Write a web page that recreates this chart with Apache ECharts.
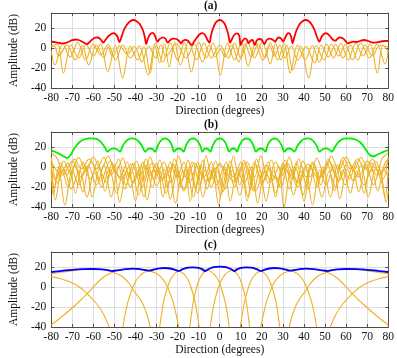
<!DOCTYPE html>
<html>
<head>
<meta charset="utf-8">
<script src="https://cdn.jsdelivr.net/npm/echarts@6/dist/echarts.min.js"></script>
<style>
  html, body {margin: 0; padding: 0; background: #fff;}
  #chart {width: 397px; height: 358px;}
</style>
</head>
<body>
<div id="chart"></div>
<script>
// tick labels
const xTicks = [-80, 80, 10]
const yTicks = [-40, 35, 20]
const panelTitles = ['(a)', '(b)', '(c)']

// (a) combined pattern and the three component patterns, [deg, dB]
const aRed = [[-80,6.5],[-78,5.8],[-76,5],[-74.5,4.6],[-73,5.2],[-71.5,6.5],[-70,7.8],[-68.5,8.5],[-67,8],[-65.5,6.5],[-64,4.8],[-63,4],[-62,5.5],[-60.5,8.5],[-59,10.3],[-58,10.5],[-57,9.5],[-56,7],[-55.3,5.3],[-54.5,7.5],[-53,11.5],[-51.5,14],[-50.5,14.8],[-49.5,14],[-48.5,11],[-47.6,5.8],[-46.8,10],[-45.5,18],[-44,23.5],[-42.5,26.8],[-41,28],[-39.5,26.8],[-38,24],[-36.5,18],[-35.5,10],[-34.9,4],[-34,10],[-33,13.8],[-32,15.2],[-31,13.5],[-30.2,9],[-29.6,6.3],[-28.5,9],[-27,10.7],[-25.8,9.5],[-24.7,5.3],[-23.5,8],[-22,9.3],[-20.5,9],[-19.3,7],[-18.4,4.7],[-17.5,7],[-16.3,8.2],[-15,7],[-13.3,3],[-12.3,6],[-11,10],[-9.5,13.8],[-8.3,14.8],[-7,13],[-5.8,8],[-4.9,5.3],[-4.2,12],[-3.3,19],[-2.1,24.7],[-1,27.3],[0,28],[1,27.3],[2.2,24.7],[3.3,19],[4.2,12],[4.9,5.3],[5.8,9],[7,13.5],[8.2,14.7],[9.3,12],[9.9,3],[10.8,7],[12,9.7],[13,8],[13.6,4.7],[14.5,7],[15.5,8],[16.6,3],[17.6,7.5],[18.7,9],[20,8],[21.2,4],[22.3,8],[23.5,9.3],[25,8.5],[26.3,6.3],[27.3,9.5],[28.3,10.5],[29.3,9],[30.1,6.5],[31,10],[32,14],[32.8,14.8],[33.8,12],[34.6,4.7],[35.3,10],[36.5,18],[38,24],[39.5,27],[40.8,28],[42.2,27],[43.5,24],[45,18],[46.2,11],[47.3,6.3],[48.3,11],[49.5,14],[50.3,14.8],[51.3,14],[52.5,11.5],[53.6,8.5],[54.8,7.3],[55.8,9],[57,10.5],[58.2,10],[59.5,7.5],[60.8,4.7],[62,5.5],[63.5,6.3],[65,6],[66.5,7],[68.5,8],[70.5,7],[72.7,5.3],[74.5,5.7],[76.5,6.5],[78.5,7],[80,7.2]]
const aOrange1 = [[-80,-3],[-78.2,-17],[-74.6,4.5],[-71,-9],[-67.4,5.5],[-63.7,-12],[-60.1,4],[-56.5,-7],[-53,3.5],[-49.5,-12],[-46,3],[-42.5,-10],[-38.3,2],[-34,-27],[-30.5,5],[-27,-14],[-23.5,5],[-20,-12],[-16.8,5.5],[-13.5,-24],[-10,6],[-6.5,-10],[-3.1,5],[0.3,-27],[3.7,5],[7,-12],[10.3,6],[13.5,-18],[17,5],[20.5,-12],[24,5],[27.5,-12],[30.5,5],[33.4,-25],[37,3],[40.5,-12],[44,2.5],[47.3,-14],[50.7,4],[54,-10],[57.5,4.5],[61,-12],[64.5,5],[68,-8],[71.4,4],[74.8,-25],[77.5,3],[80,-4]]
const aOrange2 = [[-80,2],[-77,4],[-74.2,-25],[-70.6,3],[-67,-10],[-63.5,3.5],[-60,-8],[-56.6,4],[-53.2,-24],[-49.6,2.5],[-46.1,-30],[-42.5,2],[-39,-12],[-36,1.5],[-33,-25],[-30.8,3],[-28.5,-15],[-26.2,4],[-24,-19],[-21.4,6],[-18.7,-17],[-14.8,6],[-11,-12],[-7.5,5],[-4,-10],[0,3],[4,-10],[7,5],[10,-10],[13.2,6],[16.5,-10],[20.2,6],[24,-16],[26.5,5],[29,-12],[31.8,3],[34.6,-22],[38.4,2],[42.2,-30],[45.8,2.5],[49.5,-12],[53,4],[56.5,-8],[59.7,3.5],[63,-12],[67,5],[71,-10],[74.7,4],[78.5,-16],[80,-2]]
const aOrange3 = [[-80,1],[-78.5,2],[-76.5,-8],[-72.5,3],[-68.5,-12],[-65.3,2.5],[-62.2,-17],[-58.6,3],[-55,-10],[-53,1],[-51,-8],[-47.5,2],[-44,-6],[-40.5,1.5],[-37,-14],[-33.7,2],[-30.5,-10],[-28,3],[-25.5,-8],[-20.7,4],[-16,-10],[-12,4],[-8.2,-14],[-5,3],[-2,-9],[0.3,-1],[2.5,-9],[5.7,3],[9,-14],[12,4],[15,-9],[18.2,4],[21.5,-10],[23.7,2.5],[26,-8],[28.5,3],[31,-10],[34,2],[37,-12],[41,1.5],[45,-15],[48.2,3],[51.5,-9],[55,3.5],[58.5,-10],[62,3],[65.5,-12],[69,3],[72.5,-8],[76,2.5],[80,1]]

// (b) combined pattern and component patterns
const bGreen = [[-80,16.6],[-78,15],[-76,13],[-74,10.5],[-72.5,9],[-71,11.5],[-69.5,17],[-68,21.5],[-66.5,25],[-64.5,27.5],[-62.5,28.5],[-61,28.7],[-59,28.4],[-57.5,27],[-56,24],[-54.5,19.5],[-53.3,15.5],[-52,17.5],[-50.3,18.6],[-48.7,17.5],[-47.3,15.3],[-46.3,20],[-45,24.5],[-43.5,27.5],[-41.8,28.6],[-40,28],[-38.5,25.5],[-37,21.5],[-35.3,15.3],[-34.2,17.8],[-33,18.5],[-31.8,17.8],[-30.7,15.3],[-29.5,21],[-28.3,25.5],[-27,28],[-26,28.5],[-25,28],[-23.7,25.5],[-22.6,21],[-21.7,15.3],[-20.6,17.8],[-19.5,18.5],[-18.3,17.8],[-17.2,15.3],[-16.1,21],[-15,25.5],[-13.8,28],[-12.7,28.5],[-11.6,28],[-10.4,25.5],[-9.2,21],[-8.2,15.3],[-7.4,17.8],[-6.5,18.5],[-5.5,17.8],[-4.5,15.3],[-3.4,21],[-2.3,25.5],[-1.1,28],[0,28.5],[1.1,28],[2.3,25.5],[3.4,21],[4.5,15.3],[5.5,17.8],[6.5,18.5],[7.4,17.8],[8.2,15.3],[9.2,21],[10.4,25.5],[11.6,28],[12.7,28.5],[13.8,28],[15,25.5],[16.1,21],[17.2,15.3],[18.3,17.8],[19.5,18.5],[20.6,17.8],[21.7,15.3],[22.6,21],[23.7,25.5],[25,28],[26,28.5],[27,28],[28.3,25.5],[29.5,21],[30.7,15.3],[31.8,17.8],[33,18.5],[34.2,17.8],[35.3,15.3],[37,21.5],[38.5,25.5],[40,28],[41.8,28.6],[43.5,27.5],[45,24.5],[46.3,20],[47.3,15.3],[48.7,17.5],[50.3,18.6],[52,17.5],[53.3,15.5],[54.5,19.5],[56,24],[57.5,27],[59,28.4],[61,28.7],[62.5,28.5],[64.5,27.5],[66.5,25],[68,21.5],[69.5,17],[71,12.5],[72.8,10.5],[74.5,12],[76.5,14],[78.5,15.8],[80,17]]
const bOrange1 = [[-80,10],[-77.5,-12],[-74,6],[-71,-6],[-67,9.5],[-63.5,-4],[-60,10],[-56.5,-3],[-53,11],[-49.5,-6],[-46,9],[-43,-10],[-39.5,6],[-36.5,-14],[-33,10],[-30,-8],[-26.5,5],[-23,-16],[-19.5,11],[-16.5,-10],[-13,5],[-9.5,-18],[-6.5,11],[-3.5,-12],[0,4],[3.5,-12],[6.5,11],[9.5,-18],[13,5],[16.5,-10],[19.5,11],[23,-16],[26.5,5],[30,-8],[33,10],[36.5,-14],[39.5,6],[43,-10],[46,9],[49.5,-6],[53,11],[56.5,-3],[60,10],[63.5,-4],[67,9.5],[71,-6],[74,6],[77.5,-12],[80,10]]
const bOrange2 = [[-80,5],[-78.5,-20],[-75.5,4],[-72.5,-8],[-69,8],[-65.5,-2],[-62,8],[-58.5,-2],[-55,9.5],[-51.5,-8],[-48,8],[-44.5,-18],[-41,4],[-38,-10],[-35,8],[-31.5,-12],[-28.5,7],[-25,-20],[-21.5,8],[-18,-14],[-15,7],[-11.5,-22],[-8,7],[-5,-15],[-2,6],[1.5,-25],[5,6],[8,-15],[11.5,7],[14.5,-22],[17.5,8],[21,-14],[24.5,7],[28,-20],[31,7],[34.5,-12],[37.5,8],[41,-10],[44.5,4],[48,-18],[51.5,8],[55,-8],[58.5,9.5],[62,-2],[65.5,8],[69,-2],[72.5,8],[76,-8],[78.5,4],[80,8]]
const bOrange3 = [[-80,2],[-78,-33],[-75,-2],[-72,-20],[-68.5,3],[-65,-25],[-62,0],[-58.5,-18],[-55,2],[-51.5,-30],[-48,1],[-45,-22],[-42,-2],[-38.5,-28],[-35,2],[-32,-20],[-29,-1],[-25.5,-26],[-22,3],[-19,-20],[-16,0],[-12.5,-30],[-9,2],[-6,-22],[-3,0],[0.5,-28],[4,2],[7,-20],[10,0],[13.5,-30],[17,3],[20,-18],[23,-1],[26.5,-26],[30,2],[33,-22],[36,-1],[39.5,-28],[43,2],[46,-20],[49,0],[52.5,-30],[56,2],[59.5,-18],[63,0],[66,-25],[69.5,3],[73,-18],[76,-2],[78.5,-30],[80,-3]]
const bOrange4 = [[-80,-4],[-79,-28],[-76.5,0],[-73.5,-38],[-70,-3],[-67,-18],[-63.5,1],[-60.5,-30],[-57,-2],[-54,-15],[-50.5,0],[-47.5,-35],[-44,-4],[-41,-16],[-37.5,2],[-34.5,-33],[-31,-3],[-28,-14],[-24.5,0],[-21,-36],[-17.5,-4],[-14.5,-16],[-11,1],[-8,-30],[-4.5,-3],[-1.5,-18],[2,1],[5,-34],[8.5,-3],[11.5,-16],[15,0],[18,-36],[21.5,-4],[24.5,-15],[28,1],[30.5,-40],[34,-2],[37,-16],[40.5,0],[44,-38],[47.5,-3],[50.5,-18],[54,2],[57,-32],[60.5,-2],[63.5,-14],[67,2],[70.5,-30],[74,-2],[77,-16],[79,-35],[80,-24]]
const bOrange5 = [[-80,-3],[-77,-16],[-74,-2],[-70.5,-22],[-66.5,-3],[-63,-30],[-59.5,-5],[-56,-20],[-52.5,-2],[-49,-26],[-45.5,-3],[-42.5,-20],[-39,-5],[-36,-30],[-33,-4],[-30,-19],[-26.5,-2],[-23.5,-32],[-20,-4],[-17,-22],[-14,-2],[-10.5,-26],[-7,-3],[-4,-20],[-1,-4],[2.5,-22],[6,-3],[9.5,-28],[13,-2],[16,-24],[19,-3],[22,-34],[25.5,-4],[29,-20],[32,-3],[35,-28],[38.5,-4],[42,-22],[45,-2],[48.5,-30],[52,-4],[55,-20],[58.5,-3],[62,-26],[65,-4],[68.5,-18],[72,-2],[75,-24],[78,-3],[80,-10]]
const bOrange6 = [[-80,14],[-77,8],[-74.5,-8],[-70,6],[-66,-10],[-61,5],[-56.5,-14],[-52,6],[-47,-12],[-42,3],[-37,-20],[-32,4],[-27,-12],[-22,2],[-17,-24],[-12,4],[-6.5,-14],[0,2],[6.5,-14],[12,4],[17,-24],[22,2],[27,-12],[32,4],[37,-20],[42,3],[47,-12],[52,6],[56.5,-14],[61,5],[66,-10],[70,6],[74.5,-8],[77,8],[80,14]]
const bOrange7 = [[-80,6],[-76,-6],[-72,4],[-68.5,-26],[-65,5],[-61.5,-12],[-58,6],[-54.5,-24],[-51,4],[-47.5,-10],[-44,5],[-40,-34],[-36.5,5],[-33.5,-9],[-30,4],[-27,-30],[-23.5,5],[-20.5,-10],[-17,5],[-14,-34],[-10.5,5],[-7.5,-10],[-4,5],[-0.5,-38],[3,5],[6.5,-10],[10,5],[13,-34],[16.5,5],[19.5,-10],[23,5],[26.5,-30],[30,4],[33.5,-9],[36.5,5],[40,-34],[44,5],[47.5,-10],[51,4],[54.5,-24],[58,6],[61.5,-12],[65,5],[68.5,-26],[72,4],[76,-6],[80,6]]

// (c) combined pattern and the individual beams
const cBlue = [[-80,15],[-75,16.2],[-70,17.2],[-65,17.8],[-60,18],[-56,17.6],[-53,16.8],[-50.9,16],[-48,16.9],[-44.5,17.9],[-41,18.3],[-37.5,17.7],[-35,16.8],[-33.5,16.3],[-31.5,17.3],[-28.5,18.6],[-26,19],[-23.5,18.5],[-21.2,17.2],[-19.5,15.9],[-17.5,17.8],[-15,19.3],[-12.5,19.7],[-10,19.2],[-8.3,17.6],[-7,15.9],[-5.3,18],[-3,19.8],[0,20.3],[3,19.8],[5.3,18],[7,15.9],[8.3,17.6],[10,19.2],[12.5,19.7],[15,19.3],[17.5,17.8],[19.5,15.9],[21.2,17.2],[23.5,18.5],[26,19],[28.5,18.6],[31.5,17.3],[33.5,16.3],[35,16.8],[37.5,17.7],[41,18.3],[44.5,17.9],[48,16.9],[50.9,16],[53,16.8],[56,17.6],[60,18],[65,17.8],[70,17.2],[75,16.2],[80,15]]
const cEdgeL = [[-80,10.4],[-75,8],[-71,5],[-67,0.5],[-62.9,-6.6],[-58,-18],[-55,-28],[-52.5,-40]]
const cBeamM60 = [[-80,13.4],[-76,14.5],[-72,15.6],[-68,16.8],[-64,17.6],[-60,18],[-57,17.7],[-54,16.7],[-50.9,14.7],[-48.5,13],[-46,10],[-43,3.5],[-40.4,-5],[-38.5,-10],[-36.5,-17],[-34.5,-28],[-33,-40]]
const cBeamM41 = [[-80,-38],[-74,-28],[-68,-17],[-62.9,-6.6],[-56,8.5],[-50.9,14.7],[-46,17.5],[-41,18.3],[-35,16.9],[-30.5,14],[-27.4,8.8],[-25.1,1.3],[-22.4,-13.3],[-20.8,-26.7],[-19.5,-40]]
const cBeamM26 = [[-46,-40],[-44.8,-26],[-43.3,-12.6],[-40.8,2],[-38.7,9.5],[-35.8,14.7],[-31.6,17.6],[-26,19],[-21.5,17.6],[-18.1,14.7],[-15.7,9.5],[-14,2],[-12,-12.6],[-10.8,-26],[-9.8,-40]]
const cBeamM12 = [[-28.5,-40],[-27.5,-25.3],[-26.4,-11.9],[-24.3,2.7],[-22.6,10.2],[-20.3,15.4],[-17,18.3],[-12.5,19.7],[-7.7,18.3],[-4.2,15.4],[-1.7,10.2],[0.1,2.7],[2.2,-11.9],[3.5,-25.3],[4.5,-40]]
const cBeam0 = [[-14.2,-40],[-13.3,-25],[-12.3,-11.6],[-10.5,3],[-9,10.5],[-7,15.7],[-4,18.8],[0,20.2],[4,18.8],[7,15.7],[9,10.5],[10.5,3],[12.3,-11.6],[13.3,-25],[14.2,-40]]
const cBeamP12 = [[-4.5,-40],[-3.5,-25.3],[-2.2,-11.9],[-0.1,2.7],[1.7,10.2],[4.2,15.4],[7.7,18.3],[12.5,19.7],[17,18.3],[20.3,15.4],[22.6,10.2],[24.3,2.7],[26.4,-11.9],[27.5,-25.3],[28.5,-40]]
const cBeamP26 = [[9.8,-40],[10.8,-26],[12,-12.6],[14,2],[15.7,9.5],[18.1,14.7],[21.5,17.6],[26,19],[31.6,17.6],[35.8,14.7],[38.7,9.5],[40.8,2],[43.3,-12.6],[44.8,-26],[46,-40]]
const cBeamP41 = [[19.5,-40],[20.8,-26.7],[22.4,-13.3],[25.1,1.3],[27.4,8.8],[30.5,14],[35,16.9],[41,18.3],[46,17.5],[50.9,14.7],[56,8.5],[62.9,-6.6],[68,-17],[74,-28],[80,-38]]
const cBeamP60 = [[33,-40],[34.5,-28],[36.5,-17],[38.5,-10],[40.4,-5],[43,3.5],[46,10],[48.5,13],[50.9,14.7],[54,16.7],[57,17.7],[60,18],[64,17.6],[68,16.8],[72,15.6],[76,14.5],[80,13.4]]
const cEdgeR = [[52.5,-40],[55,-28],[58,-18],[62.9,-6.6],[67,0.5],[71,5],[75,8],[80,10.4]]

const FONT = 'Liberation Serif'
const AX = '#4d4d4d'
const TXT = '#111'
const GRIDLINE = '#dedede'
const ORANGE = '#EDB120'
const tops = [13, 132, 252]

const chart = echarts.init(document.getElementById('chart'))

const xAxes = []
const yAxes = []
tops.forEach((t, i) => {
    xAxes.push({
        type: 'value', gridIndex: i, position: 'bottom',
        min: xTicks[0], max: xTicks[1], interval: xTicks[2],
        name: 'Direction (degrees)', nameLocation: 'middle', nameGap: 17,
        nameTextStyle: {fontFamily: FONT, fontSize: 11.5, color: TXT},
        axisLine: {onZero: false, lineStyle: {color: AX, width: 1}},
        axisTick: {inside: true, length: 3, lineStyle: {color: AX}},
        axisLabel: {fontFamily: FONT, fontSize: 11.5, color: TXT, margin: 4},
        splitLine: {show: true, lineStyle: {color: GRIDLINE, width: 1}},
    })
    xAxes.push({
        type: 'value', gridIndex: i, position: 'top',
        min: xTicks[0], max: xTicks[1], interval: xTicks[2],
        axisLine: {onZero: false, lineStyle: {color: AX, width: 1}},
        axisTick: {inside: true, length: 3, lineStyle: {color: AX}},
        axisLabel: {show: false},
        splitLine: {show: false},
    })
    yAxes.push({
        type: 'value', gridIndex: i, position: 'left',
        min: yTicks[0], max: yTicks[1], interval: yTicks[2],
        name: 'Amplitude (dB)', nameLocation: 'middle', nameGap: 20,
        nameTextStyle: {fontFamily: FONT, fontSize: 11.5, color: TXT},
        axisLine: {show: true, onZero: false, lineStyle: {color: AX, width: 1}},
        axisTick: {show: true, inside: true, length: 3, lineStyle: {color: AX}},
        axisLabel: {fontFamily: FONT, fontSize: 11.5, color: TXT, margin: 5, showMaxLabel: false},
        splitLine: {show: true, lineStyle: {color: GRIDLINE, width: 1}},
    })
    yAxes.push({
        type: 'value', gridIndex: i, position: 'right',
        min: yTicks[0], max: yTicks[1], interval: yTicks[2],
        axisLine: {show: true, onZero: false, lineStyle: {color: AX, width: 1}},
        axisTick: {show: true, inside: true, length: 3, lineStyle: {color: AX}},
        axisLabel: {show: false},
        splitLine: {show: false},
    })
})

const line = (data, i, color, width, z) => ({
    type: 'line', data, xAxisIndex: 2 * i, yAxisIndex: 2 * i,
    symbol: 'none', smooth: 0.35, z,
    lineStyle: {color, width},
})

const series = [
    ...[aOrange1, aOrange2, aOrange3].map(d => line(d, 0, ORANGE, 1.1, 2)),
    line(aRed, 0, '#ff0000', 1.8, 3),
    ...[bOrange1, bOrange2, bOrange3, bOrange4, bOrange5, bOrange6, bOrange7].map(d => line(d, 1, ORANGE, 1.1, 2)),
    line(bGreen, 1, '#00ee00', 1.8, 3),
    ...[cEdgeL, cBeamM60, cBeamM41, cBeamM26, cBeamM12, cBeam0, cBeamP12, cBeamP26, cBeamP41, cBeamP60, cEdgeR].map(d => line(d, 2, ORANGE, 1.1, 2)),
    line(cBlue, 2, '#0000ff', 1.8, 3),
]

chart.setOption({
    animation: false,
    backgroundColor: '#fff',
    title: panelTitles.map((text, i) => ({
        text, left: 204, top: tops[i] - 13, padding: 0,
        textStyle: {fontFamily: FONT, fontSize: 11.5, fontWeight: 'bold', color: TXT},
    })),
    grid: tops.map(t => ({left: 32, right: 8, top: t, height: 75})),
    xAxis: xAxes,
    yAxis: yAxes,
    series,
})
</script>
</body>
</html>
